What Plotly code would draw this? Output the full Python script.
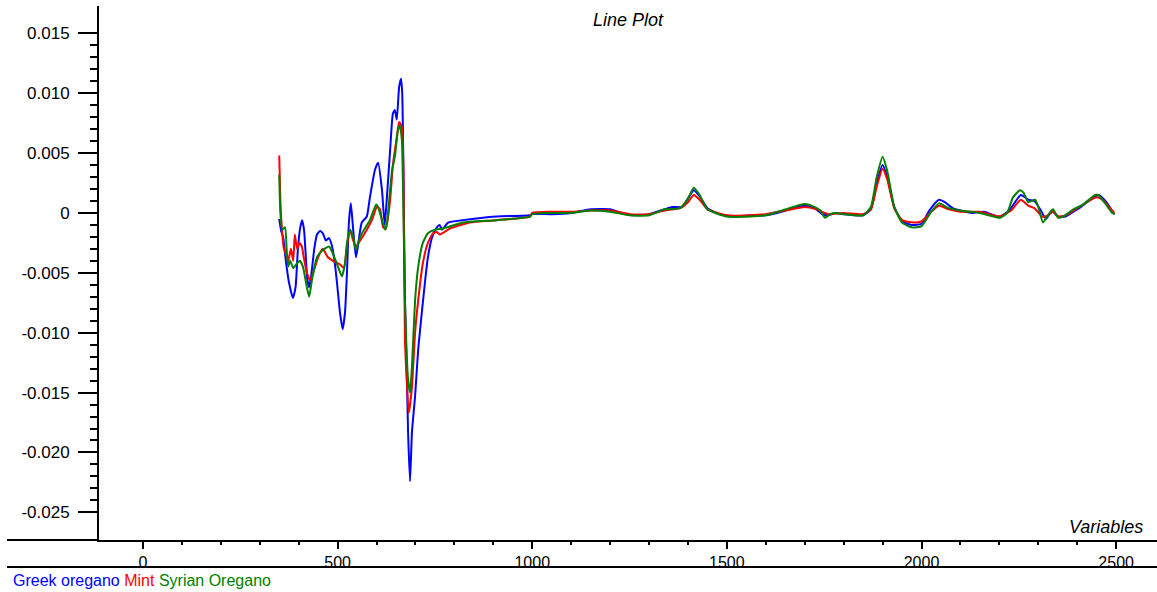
import plotly.graph_objects as go

# ---- data ----
greek_x = [350, 355, 360, 367, 375, 385, 392, 398, 404, 409, 414, 418, 422, 427, 433, 440, 447, 455, 462, 470,
           478, 485, 492, 498, 506, 513, 519, 524, 529, 534, 540, 547, 552, 562, 575, 583, 596, 604, 614, 621,
           627, 635, 642, 647, 652, 658, 663, 666, 669, 673, 678, 681, 686, 691, 699, 707, 717, 725, 732, 743,
           755, 762, 768, 784, 822, 909, 994,
           1000, 1050, 1100, 1150, 1200, 1230, 1260, 1300, 1340, 1360, 1385, 1400, 1415, 1430, 1450, 1480, 1520,
           1560, 1600, 1640, 1670, 1700, 1725, 1745, 1760, 1780, 1800, 1850, 1870, 1885, 1900, 1912, 1930, 1950,
           1975, 2000, 2020, 2045, 2060, 2080, 2100, 2130, 2160, 2200, 2225, 2255, 2275, 2290, 2305, 2320, 2335,
           2350, 2370, 2400, 2430, 2455, 2475, 2495]
greek_y = [-0.0005, -0.0015, -0.002, -0.004, -0.0058, -0.0071, -0.0062, -0.003, -0.0012, -0.0006, -0.0015, -0.0035,
           -0.0055, -0.0062, -0.005, -0.003, -0.0018, -0.0015, -0.0017, -0.0023, -0.0021, -0.0027, -0.004, -0.0057,
           -0.0083, -0.0097, -0.0083, -0.005, -0.0008, 0.0008, -0.0014, -0.0037, -0.0028, -0.0008, -0.0003, 0.0013,
           0.0036, 0.0042, 0.0019, -0.001, 0.0015, 0.0053, 0.0083, 0.0086, 0.0078, 0.0105, 0.0112, 0.0100, 0.0038,
           -0.0073, -0.0137, -0.0183, -0.0224, -0.0183, -0.0153, -0.0114, -0.0081, -0.0056, -0.0037, -0.0020,
           -0.0012, -0.0010, -0.0014, -0.0008, -0.0006, -0.0003, -0.0002,
           -0.0001, -0.0001, 0.0, 0.0003, 0.0003, 0.0, -0.0002, -0.0001, 0.0003, 0.0005, 0.0005, 0.0012, 0.0019,
           0.0014, 0.0004, -0.0001, -0.0003, -0.0002, -0.0002, 0.0001, 0.0004, 0.0006, 0.0004, -0.0001, -0.0002,
           0.0, -0.0001, -0.0002, 0.0003, 0.0025, 0.0040, 0.0030, 0.0005, -0.0007, -0.0010, -0.0009, 0.0002,
           0.0011, 0.0009, 0.0004, 0.0002, 0.0, 0.0001, -0.0003, 0.0002, 0.0015, 0.0011, 0.0010, 0.0003, -0.0005,
           0.0002, -0.0003, -0.0003, 0.0003, 0.0010, 0.0015, 0.0009, -0.0001]

mint_x = [350, 353, 357, 362, 368, 373, 380, 386, 390, 396, 402, 408, 413, 421, 429, 437, 450, 462, 475, 488,
          506, 516, 524, 532, 540, 547, 558, 575, 588, 601, 609, 617, 624, 635, 642, 652, 658, 665, 669, 673,
          683, 691, 699, 707, 719, 732, 745, 755, 763, 789, 840, 909, 994,
          1000, 1050, 1100, 1150, 1200, 1250, 1300, 1340, 1380, 1400, 1415, 1430, 1450, 1500, 1560, 1600, 1650,
          1700, 1730, 1760, 1800, 1850, 1870, 1885, 1900, 1912, 1930, 1950, 1980, 2000, 2025, 2045, 2070, 2100,
          2150, 2200, 2230, 2255, 2275, 2290, 2310, 2325, 2338, 2352, 2370, 2400, 2430, 2450, 2465, 2495]
mint_y = [0.0048, 0.001, -0.0014, -0.003, -0.0035, -0.004, -0.003, -0.004, -0.0018, -0.003, -0.0025, -0.0028,
          -0.0037, -0.005, -0.0056, -0.005, -0.0037, -0.0030, -0.0037, -0.0040, -0.0043, -0.0046, -0.0028, -0.0014,
          -0.0023, -0.0028, -0.0023, -0.0014, -0.0006, 0.0005, 0.0003, -0.0012, -0.0013, 0.0011, 0.0040, 0.0063,
          0.0076, 0.0072, 0.0038, -0.0106, -0.0167, -0.0145, -0.0100, -0.0073, -0.0042, -0.0025, -0.0017, -0.0016,
          -0.0018, -0.0013, -0.0008, -0.0006, -0.0003,
          0.0, 0.0001, 0.0001, 0.0002, 0.0002, -0.0001, -0.0001, 0.0002, 0.0004, 0.0009, 0.0015, 0.0011, 0.0003,
          -0.0002, -0.0002, -0.0001, 0.0002, 0.0005, 0.0003, -0.0001, 0.0, -0.0001, 0.0003, 0.0022, 0.0037, 0.0028,
          0.0004, -0.0006, -0.0008, -0.0007, 0.0001, 0.0006, 0.0003, 0.0001, 0.0001, -0.0003, 0.0002, 0.0011,
          0.0006, 0.0004, -0.0003, -0.0002, 0.0001, -0.0003, -0.0002, 0.0004, 0.0010, 0.0013, 0.0011, 0.0]

syrian_x = [350, 353, 358, 365, 369, 373, 378, 386, 396, 403, 411, 421, 427, 434, 447, 462, 478, 488, 501, 511,
            519, 524, 532, 540, 547, 558, 570, 583, 599, 604, 614, 622, 627, 635, 640, 647, 655, 660, 665, 669,
            673, 681, 686, 691, 699, 707, 719, 732, 750, 771, 822, 909, 994,
            1000, 1050, 1100, 1150, 1200, 1250, 1300, 1340, 1380, 1400, 1415, 1430, 1450, 1500, 1560, 1600, 1650,
            1700, 1725, 1740, 1752, 1765, 1780, 1800, 1850, 1870, 1885, 1900, 1912, 1930, 1950, 1975, 2000, 2025,
            2045, 2070, 2100, 2150, 2202, 2220, 2235, 2253, 2262, 2274, 2292, 2300, 2312, 2325, 2338, 2351, 2364,
            2390, 2415, 2446, 2454, 2472, 2490, 2497]
syrian_y = [0.0032, 0.0, -0.0014, -0.0012, -0.003, -0.0045, -0.004, -0.0046, -0.0042, -0.0040, -0.0045, -0.0062,
            -0.0070, -0.0056, -0.0037, -0.0031, -0.0028, -0.0034, -0.0045, -0.0053, -0.0042, -0.0025, -0.0014,
            -0.0020, -0.0031, -0.0020, -0.0013, -0.0006, 0.0007, 0.0005, -0.0006, -0.0014, -0.0008, 0.0020, 0.0036,
            0.0047, 0.0069, 0.0073, 0.0061, 0.0003, -0.0073, -0.0139, -0.0150, -0.0128, -0.0073, -0.0045, -0.0025,
            -0.0017, -0.0014, -0.0013, -0.0008, -0.0006, -0.0003,
            -0.0001, 0.0, 0.0, 0.0002, 0.0001, -0.0002, -0.0002, 0.0003, 0.0004, 0.0012, 0.0021, 0.0015, 0.0003,
            -0.0003, -0.0003, -0.0002, 0.0003, 0.00075, 0.0005, 0.0002, -0.0004, -0.0001, 0.0, -0.0001, -0.0002,
            0.0005, 0.0030, 0.0047, 0.0035, 0.0005, -0.0008, -0.0012, -0.0011, 0.0001, 0.0008, 0.0004, 0.0002, 0.0,
            -0.0004, 0.0, 0.0013, 0.0019, 0.0017, 0.0009, 0.0011, 0.0005, -0.0008, -0.0002, 0.0003, -0.0004,
            -0.0003, 0.0003, 0.0007, 0.0015, 0.0015, 0.0008, 0.0, -0.0001]

series_names = ["Greek oregano", "Mint", "Syrian Oregano"]
series_colors = ["#0000FF", "#FF0000", "#008000"]

x_tickvals = [0, 500, 1000, 1500, 2000, 2500]
x_minor_vals = [v for v in range(0, 2501, 100) if v % 500 != 0]
y_tickvals = [-0.025, -0.020, -0.015, -0.010, -0.005, 0, 0.005, 0.010, 0.015]
y_ticktext = ["-0.025", "-0.020", "-0.015", "-0.010", "-0.005", "0", "0.005", "0.010", "0.015"]
y_minor_vals = [m / 1000 for m in range(-25, 16) if m % 5 != 0]

FONT = "Liberation Sans, Arial, sans-serif"

fig = go.Figure()
for xs, ys, name, col in zip([greek_x, mint_x, syrian_x], [greek_y, mint_y, syrian_y],
                             series_names, series_colors):
    fig.add_trace(go.Scatter(x=xs, y=ys, mode="lines", name=name,
                             line=dict(color=col, width=2, shape="spline", smoothing=0.5),
                             showlegend=False))

fig.update_layout(
    width=1157, height=592,
    margin=dict(l=99, r=0, t=6, b=52),
    paper_bgcolor="white", plot_bgcolor="white",
    font=dict(family=FONT, size=17, color="black"),
    xaxis=dict(range=[-113, 2605], showline=True, linewidth=2, linecolor="black",
               showgrid=False, zeroline=False,
               tickmode="array", tickvals=x_tickvals, ticks="outside", ticklen=7, tickwidth=2,
               tickcolor="black", ticklabelstandoff=0, tickfont=dict(size=16, family=FONT),
               minor=dict(ticks="outside", ticklen=3, tickwidth=2, tickcolor="black",
                          tickmode="array", tickvals=x_minor_vals, showgrid=False)),
    yaxis=dict(range=[-0.02731, 0.01728], showline=True, linewidth=2, linecolor="black",
               showgrid=False, zeroline=False,
               tickmode="array", tickvals=y_tickvals, ticktext=y_ticktext,
               ticks="outside", ticklen=19, tickwidth=2, tickcolor="black",
               ticklabelstandoff=5, tickfont=dict(size=17, family=FONT),
               minor=dict(ticks="outside", ticklen=7, tickwidth=2, tickcolor="black",
                          tickmode="array", tickvals=y_minor_vals, showgrid=False)),
)

# axis line extension to the left and lower separator line
fig.add_shape(type="line", xref="paper", yref="paper", x0=-0.087, x1=0, y0=0, y1=0,
              line=dict(color="black", width=2))
fig.add_shape(type="line", xref="paper", yref="paper", x0=-0.087, x1=1, y0=-0.0505, y1=-0.0505,
              line=dict(color="black", width=2))

# title
fig.add_annotation(text="<i>Line Plot</i>", xref="paper", yref="paper", x=0.5, y=0.974,
                   xanchor="center", yanchor="middle", showarrow=False,
                   font=dict(size=18, family=FONT, color="black"))
# axis title
fig.add_annotation(text="<i>Variables</i>", xref="paper", yref="paper", x=0.9887, y=0.0243,
                   xanchor="right", yanchor="middle", showarrow=False,
                   font=dict(size=18, family=FONT, color="black"))
# colored-text legend
legend_text = " ".join(f"<span style='color:{c}'>{n}</span>" for n, c in zip(series_names, series_colors))
fig.add_annotation(text=legend_text, xref="paper", yref="paper", x=-0.0832, y=-0.0757,
                   xanchor="left", yanchor="middle", showarrow=False,
                   font=dict(size=16, family=FONT))

fig.write_html("out.html")
